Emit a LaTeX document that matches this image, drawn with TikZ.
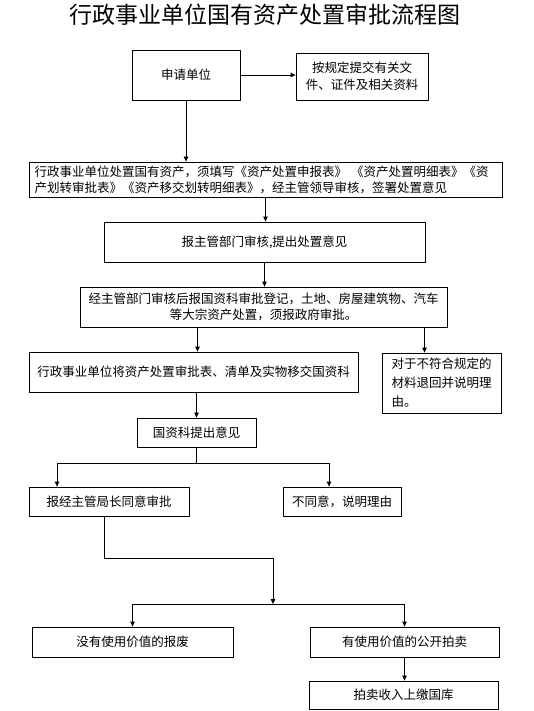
\documentclass[tikz,border=0pt]{standalone}
\usepackage{fontspec}
\setmainfont{Noto Sans CJK SC}
\usepackage{tikz}
\usetikzlibrary{arrows.meta, positioning}
\tikzset{
  kuang/.style={rectangle, draw=black, line width=0.8pt, fill=white,
    font=\fontsize{12.5}{16}\selectfont, inner sep=0pt, align=center},
  jiantou/.style={-{Triangle[length=5pt,width=4.5pt]}, line width=0.8pt},
  xian/.style={line width=0.8pt},
}
\begin{document}
\begin{tikzpicture}[x=1pt, y=-1pt]
    \useasboundingbox (0,0) rectangle (533,711);
    \node[font=\fontsize{23}{27}\selectfont] (biaoti) at (265,15) {行政事业单位国有资产处置审批流程图};

    \node[kuang, minimum width=108pt, minimum height=50pt] (shenqing) at (186,75) {申请单位};
    \node[kuang, minimum width=132pt, minimum height=47pt, font=\fontsize{12.5}{17}\selectfont] (cailiao) at (362,76.5) {按规定提交有关文\\件、证件及相关资料};
    \node[kuang, text width=462pt, inner xsep=5.5pt, minimum height=35pt, align=left] (tianxie) at (265.5,179.5) {行政事业单位处置国有资产，须填写《资产处置申报表》 《资产处置明细表》《资\\产划转审批表》《资产移交划转明细表》，经主管领导审核，签署处置意见};
    \node[kuang, minimum width=321pt, minimum height=40pt] (zhuguan) at (264.5,242) {报主管部门审核,提出处置意见};
    \node[kuang, minimum width=367pt, minimum height=40pt] (dengji) at (263.5,307) {经主管部门审核后报国资科审批登记，土地、房屋建筑物、汽车\\等大宗资产处置，须报政府审批。};
    \node[kuang, minimum width=329pt, minimum height=40pt] (yijiao) at (193.5,372) {行政事业单位将资产处置审批表、清单及实物移交国资科};
    \node[kuang, minimum width=119pt, minimum height=60pt, align=left, font=\fontsize{12.5}{19}\selectfont] (tuihui) at (441.5,383) {对于不符合规定的\\材料退回并说明理\\由。};
    \node[kuang, minimum width=119pt, minimum height=29pt] (yijian) at (196.5,432.5) {国资科提出意见};
    \node[kuang, minimum width=160pt, minimum height=29pt] (tongyi) at (109,501.5) {报经主管局长同意审批};
    \node[kuang, minimum width=118pt, minimum height=29pt] (butongyi) at (342,501.5) {不同意，说明理由};
    \node[kuang, minimum width=201pt, minimum height=30pt] (baofei) at (132.5,642) {没有使用价值的报废};
    \node[kuang, minimum width=189pt, minimum height=30pt] (paimai) at (404.5,642) {有使用价值的公开拍卖};
    \node[kuang, minimum width=189pt, minimum height=28pt] (guoku) at (403.5,695) {拍卖收入上缴国库};

    \draw[jiantou] (shenqing.east) -- (shenqing.east -| cailiao.west);
    \draw[jiantou] (shenqing.south) -- (shenqing.south |- tianxie.north);
    \draw[jiantou] (tianxie.south) -- (tianxie.south |- zhuguan.north);
    \draw[jiantou] (zhuguan.south) -- (zhuguan.south |- dengji.north);
    \draw[jiantou] ([xshift=4pt]yijiao.north |- dengji.south) -- ([xshift=4pt]yijiao.north);
    \draw[jiantou] ([xshift=-17pt]tuihui.north |- dengji.south) -- ([xshift=-17pt]tuihui.north);
    \draw[jiantou] (yijian.north |- yijiao.south) -- (yijian.north);

    % fen zhi
    \draw[xian] (yijian.south) -- ++(0,16) coordinate (fencha);
    \draw[jiantou] (fencha) -| ([xshift=-52pt]tongyi.north);
    \draw[jiantou] (fencha) -| ([xshift=-13pt]butongyi.north);

    \coordinate (huizong) at (273,604);
    \draw[jiantou] ([xshift=-5pt]tongyi.south) -- ++(0,42) -| (huizong);
    \draw[jiantou] (huizong) -| (baofei.north);
    \draw[jiantou] (huizong) -| (paimai.north);
    \draw[jiantou] (paimai.south) -- (paimai.south |- guoku.north);
\end{tikzpicture}
\end{document}
